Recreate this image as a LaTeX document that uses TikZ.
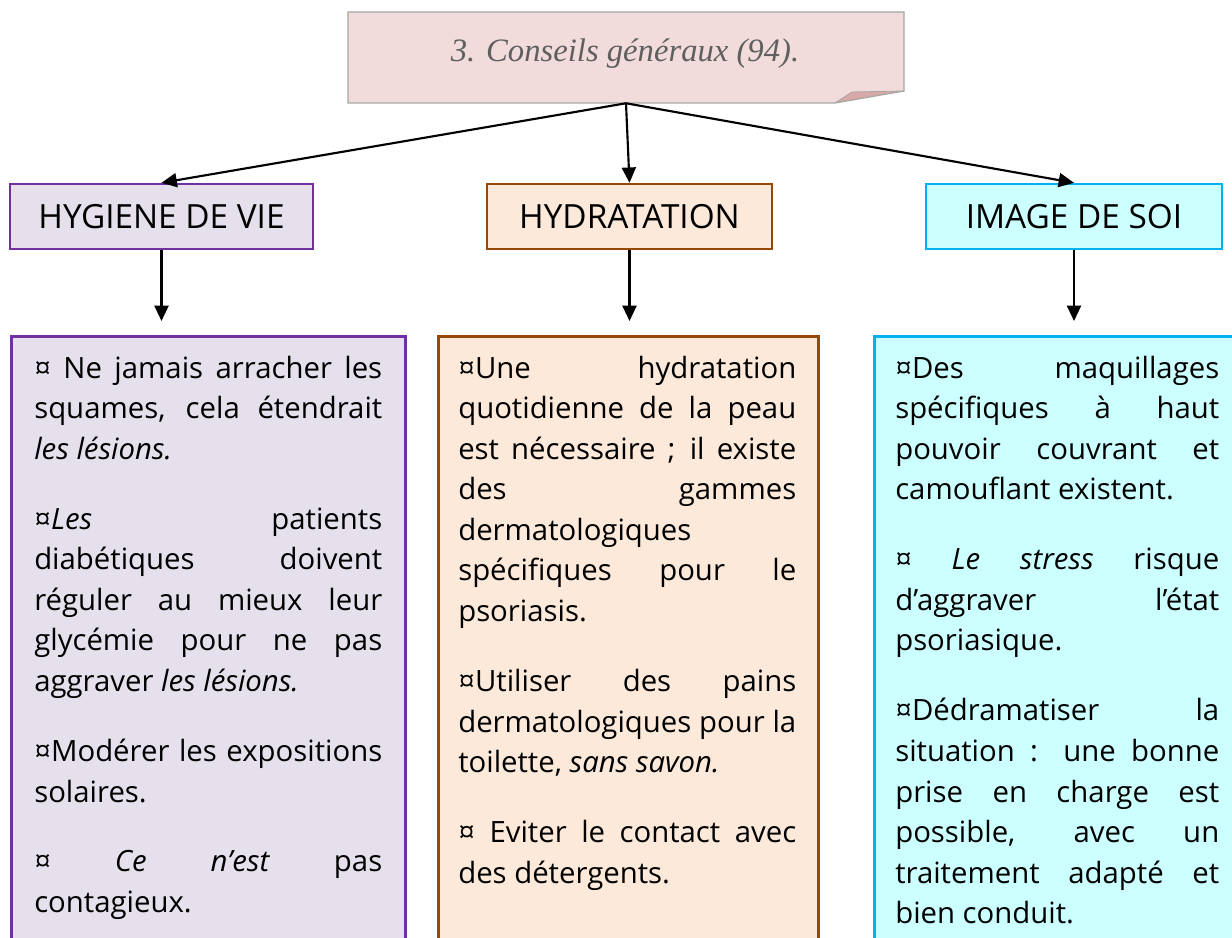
\documentclass[tikz,border=0pt]{standalone}
\usepackage{fontspec}
\setmainfont{Open Sans}
\newfontfamily\titlefont{Liberation Serif}
\usetikzlibrary{arrows.meta}
\definecolor{titlefill}{HTML}{F2DBDB}
\definecolor{titledraw}{HTML}{A6A6A6}
\definecolor{foldfill}{HTML}{D9A8A8}
\definecolor{titletext}{HTML}{5F5F5F}
\definecolor{purpfill}{HTML}{E5E0EC}
\definecolor{purpdraw}{HTML}{7030A0}
\definecolor{brownfill}{HTML}{FCE9DA}
\definecolor{browndraw}{HTML}{984806}
\definecolor{cyanfill}{HTML}{CCFFFF}
\definecolor{cyandraw}{HTML}{00B0F0}
\newcommand\jl[1]{\makebox[\linewidth][s]{#1}}
\newcommand\pgap{\\[22pt]}
\tikzset{
  headbox/.style={draw, line width=1.8pt, minimum height=48.75pt, inner sep=0pt,
    font=\fontsize{25}{28}\selectfont},
  bodybox/.style={draw, line width=1.9pt, anchor=north west, minimum height=525pt, inner sep=0pt},
  bodytext/.style={anchor=base west, inner sep=0pt, font=\fontsize{22}{30.45}\selectfont},
  arr/.style={line width=1.6pt, -{Triangle[length=11.5pt, width=10.5pt]}},
}
\begin{document}
\begin{tikzpicture}[x=0.75pt, y=-0.75pt]
\useasboundingbox (0,0) rectangle (1232,938);
\fill[white] (0,0) rectangle (1232,938);
\clip (0,0) rectangle (1232,938);

% title
\fill[titlefill] (348,12) -- (904,12) -- (904,91) -- (835,103) -- (348,103) -- cycle;
\fill[foldfill] (835,103) -- (852,92) -- (904,91) -- cycle;
\draw[titledraw, line width=0.9pt] (348,12) -- (904,12) -- (904,91) -- (835,103) -- (348,103) -- cycle;
\draw[titledraw, line width=0.6pt] (835,103) -- (852,92) -- (904,91);
\node[minimum width=417pt, minimum height=68.25pt, inner sep=0pt] (title) at (626,57.5) {};
\node[inner sep=0pt, text=titletext, font=\titlefont\itshape\fontsize{24.5}{28}\selectfont] (ttext) at (625,54) {3. Conseils généraux (94).};

% headers
\node[headbox, fill=purpfill, draw=purpdraw, minimum width=227.25pt] (h1) at (161.5,216.5) {HYGIENE DE VIE};
\node[headbox, fill=brownfill, draw=browndraw, minimum width=213.75pt] (h2) at (629.5,216.5) {HYDRATATION};
\node[headbox, fill=cyanfill, draw=cyandraw, minimum width=222pt] (h3) at (1074,216.5) {IMAGE DE SOI};

% arrows from title
\draw[arr] (title.south) -- (h1.north);
\draw[arr] (title.south) -- (h2.north);
\draw[arr] (title.south) -- (h3.north);

% vertical arrows
\coordinate (e1) at (161.5,321);
\coordinate (e2) at (629.5,321);
\coordinate (e3) at (1074,321);
\draw[arr] (h1.south) -- (e1);
\draw[arr] (h2.south) -- (e2);
\draw[arr] (h3.south) -- (e3);

% body boxes
\node[bodybox, fill=purpfill, draw=purpdraw, minimum width=295.5pt] (b1) at (10,335) {};
\node[bodybox, fill=brownfill, draw=browndraw, minimum width=285pt] (b2) at (437,335) {};
\node[bodybox, fill=cyanfill, draw=cyandraw, minimum width=285pt] (b3) at (873,335) {};

\node[bodytext] (t1) at (34,378) {\parbox[t]{261pt}{%
\jl{¤ Ne jamais arracher les}\\
\jl{squames, cela étendrait}\\
\textit{les lésions.}\pgap
\jl{¤\textit{Les} patients}\\
\jl{diabétiques doivent}\\
\jl{réguler au mieux leur}\\
\jl{glycémie pour ne pas}\\
aggraver \textit{les lésions.}\pgap
\jl{¤Modérer les expositions}\\
solaires.\pgap
\jl{¤ \textit{Ce n’est} pas}\\
contagieux.}};

\node[bodytext] (t2) at (458,378) {\parbox[t]{253.5pt}{%
\jl{¤Une hydratation}\\
\jl{quotidienne de la peau}\\
\jl{est nécessaire ; il existe}\\
\jl{des gammes}\\
dermatologiques\\
\jl{spécifiques pour le}\\
psoriasis.\pgap
\jl{¤Utiliser des pains}\\
\jl{dermatologiques pour la}\\
toilette, \textit{sans savon.}\pgap
\jl{¤ Eviter le contact avec}\\
des détergents.}};

\node[bodytext] (t3) at (895,378) {\parbox[t]{243pt}{%
\jl{¤Des maquillages}\\
\jl{spécifiques à haut}\\
\jl{pouvoir couvrant et}\\
camouflant existent.\pgap
\jl{¤ \textit{Le stress} risque}\\
\jl{d’aggraver l’état}\\
psoriasique.\pgap
\jl{¤Dédramatiser la}\\
\jl{situation : une bonne}\\
\jl{prise en charge est}\\
\jl{possible, avec un}\\
\jl{traitement adapté et}\\
bien conduit.}};
\end{tikzpicture}
\end{document}
